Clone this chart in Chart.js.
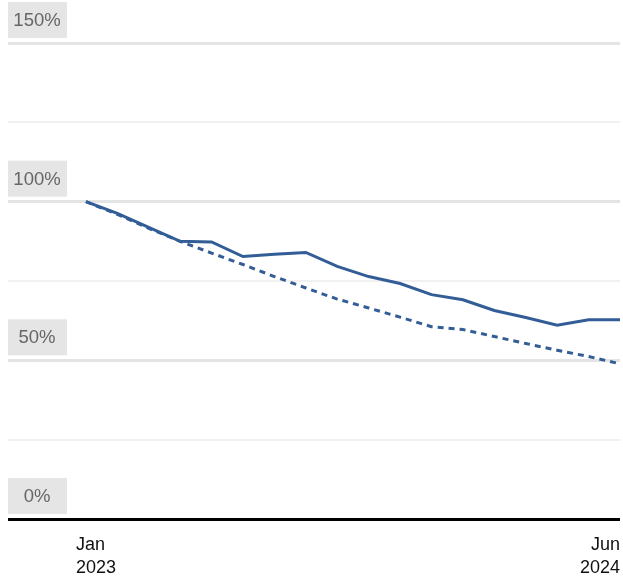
<!DOCTYPE html>
<html>
<head>
<meta charset="utf-8">
<script src="https://cdn.jsdelivr.net/npm/chart.js@4/dist/chart.umd.min.js"></script>
<style>
  html, body { margin: 0; padding: 0; background: #fff; }
  #wrap { width: 623px; height: 587px; position: relative; }
</style>
</head>
<body>
<div id="wrap"><canvas id="c"></canvas></div>
<script>
// Months Jan 2023 .. Jun 2024
const months = ['2023-01','2023-02','2023-03','2023-04','2023-05','2023-06','2023-07','2023-08','2023-09',
                '2023-10','2023-11','2023-12','2024-01','2024-02','2024-03','2024-04','2024-05','2024-06'];
// Solid series (%)
const actual = [100, 96.3, 91.9, 87.5, 87.3, 82.7, 83.4, 84.0, 79.6, 76.4, 74.2, 70.7, 69.1, 65.7, 63.5, 61.1, 62.8, 62.8];
// Dashed series (%)
const projected = [100, 96.0, 91.6, 87.5, 83.8, 80.2, 76.4, 72.8, 69.3, 66.5, 63.6, 60.6, 59.7, 57.5, 55.3, 53.2, 51.2, 48.9];
// Y axis
const yTickValues = [0, 25, 50, 75, 100, 125, 150];
const yLabelledValues = [0, 50, 100, 150];
// X axis labels (first and last month)
const xTickLabels = [['Jan', '2023'], ['Jun', '2024']];
const xTickIndex = [0, 17];

const LINE = '#325d96';

const toPts = arr => arr.map((v, i) => ({ x: i, y: v }));

const labelPlugin = {
  id: 'labels',
  afterDraw(chart) {
    const ctx = chart.ctx;
    const y = chart.scales.y, x = chart.scales.x;
    ctx.save();
    // Y labels in grey boxes
    ctx.font = '18.5px "Liberation Sans", Arial, sans-serif';
    ctx.textAlign = 'center';
    ctx.textBaseline = 'middle';
    yLabelledValues.forEach(v => {
      const py = y.getPixelForValue(v);
      const left = chart.chartArea.left;
      const bx = left, bw = 59, bh = 36;
      const by = py - 5 - bh;
      ctx.fillStyle = '#e5e5e5';
      ctx.fillRect(bx, by, bw, bh);
      ctx.fillStyle = '#666666';
      ctx.fillText(v + '%', bx + bw / 2 - 0.5, by + bh / 2 + 1);
    });
    // X labels
    ctx.font = '18px "Liberation Sans", Arial, sans-serif';
    ctx.fillStyle = '#111111';
    ctx.textBaseline = 'alphabetic';
    xTickIndex.forEach((idx, k) => {
      const px = x.getPixelForValue(idx);
      const lines = xTickLabels[k];
      let tx;
      if (k === 0) { ctx.textAlign = 'left'; tx = px - 10; }
      else { ctx.textAlign = 'right'; tx = px; }
      const base = chart.chartArea.bottom + 31;
      lines.forEach((t, j) => ctx.fillText(t, tx, base + j * 23));
    });
    ctx.restore();
  }
};

new Chart(document.getElementById('c'), {
  type: 'line',
  data: {
    datasets: [
      { label: 'Actual', data: toPts(actual), borderColor: LINE, borderWidth: 3, pointRadius: 0, tension: 0, fill: false },
      { label: 'Projected', data: toPts(projected), borderColor: LINE, borderWidth: 3, borderDash: [6, 5], pointRadius: 0, tension: 0, fill: false }
    ]
  },
  options: {
    responsive: true,
    maintainAspectRatio: false,
    animation: false,
    events: [],
    layout: { padding: { left: 8, right: 3, top: 43, bottom: 68 } },
    plugins: { legend: { display: false }, tooltip: { enabled: false } },
    scales: {
      x: {
        type: 'linear', min: -2.48, max: 17, display: false
      },
      y: {
        min: 0, max: 150,
        afterBuildTicks: s => { s.ticks = yTickValues.map(v => ({ value: v })); },
        afterFit: s => { s.width = 0; },
        ticks: { display: false },
        border: { display: false },
        grid: {
          drawTicks: false,
          tickLength: 0,
          color: c => c.tick.value === 0 ? '#000000' : (c.tick.value % 50 === 0 ? '#e4e4e4' : '#f1f1f1'),
          lineWidth: c => c.tick.value === 0 ? 3 : (c.tick.value % 50 === 0 ? 3 : 2)
        }
      }
    }
  },
  plugins: [labelPlugin]
});
</script>
</body>
</html>
